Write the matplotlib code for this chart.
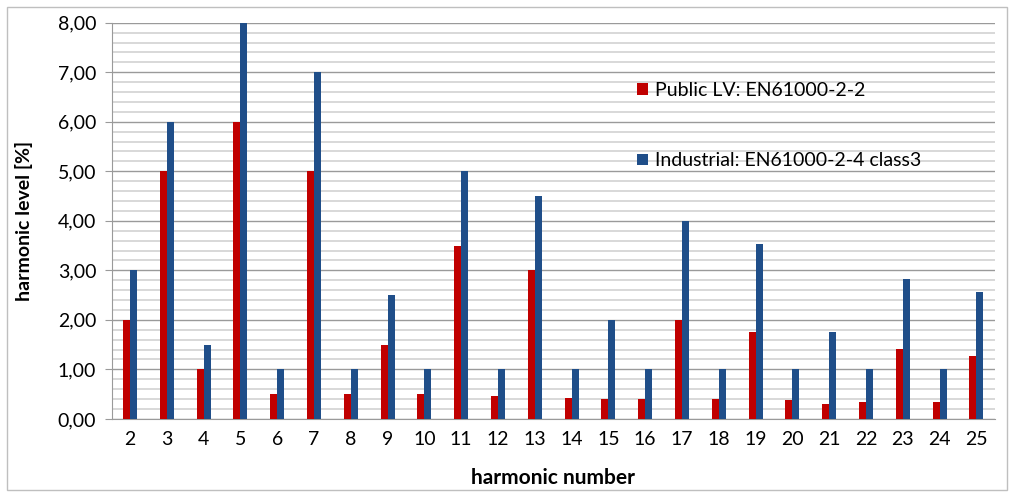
import numpy as np
import matplotlib.pyplot as plt
from matplotlib.patches import Rectangle
from matplotlib.ticker import MultipleLocator, FuncFormatter

plt.rcParams['font.family'] = ['Lato', 'DejaVu Sans']

harmonics = list(range(2, 26))
public_lv = [2.0, 5.0, 1.0, 6.0, 0.5, 5.0, 0.5, 1.5, 0.5, 3.5, 0.46, 3.0,
             0.43, 0.4, 0.41, 2.0, 0.4, 1.76, 0.38, 0.3, 0.35, 1.41, 0.35, 1.27]
industrial = [3.0, 6.0, 1.5, 8.0, 1.0, 7.0, 1.0, 2.5, 1.0, 5.0, 1.0, 4.5,
              1.0, 2.0, 1.0, 4.0, 1.0, 3.53, 1.0, 1.76, 1.0, 2.82, 1.0, 2.56]
labels = ['Public LV: EN61000-2-2', 'Industrial: EN61000-2-4 class3']

red = '#C00000'
blue = '#1F4E89'

fig = plt.figure(figsize=(10.14, 4.94), dpi=100)
ax = fig.add_axes([0.110, 0.152, 0.871, 0.802])

x = np.array(harmonics)
w = 0.19
b1 = ax.bar(x - w / 2, public_lv, width=w, color=red, zorder=3, label=labels[0])
b2 = ax.bar(x + w / 2, industrial, width=w, color=blue, zorder=3, label=labels[1])

ax.set_xlim(1.5, 25.5)
ax.set_ylim(0, 8)
ax.set_xticks(harmonics)
ax.yaxis.set_major_locator(MultipleLocator(1))
ax.yaxis.set_minor_locator(MultipleLocator(0.2))
ax.yaxis.set_major_formatter(FuncFormatter(lambda v, p: f'{v:.2f}'.replace('.', ',')))

# gridlines like the spreadsheet original
ax.grid(which='minor', axis='y', color='#d6d6d6', linewidth=1.3, zorder=0)
ax.grid(which='major', axis='y', color='#9a9a9a', linewidth=1.0, zorder=1)

for s in ['top', 'right']:
    ax.spines[s].set_visible(False)
for s in ['left', 'bottom']:
    ax.spines[s].set_color('#9a9a9a')
ax.tick_params(axis='y', which='major', length=5, color='#9a9a9a', labelsize=14, pad=6)
ax.tick_params(axis='y', which='minor', length=0)
ax.tick_params(axis='x', length=0, labelsize=14, pad=9)

ax.set_xlabel('harmonic number', fontsize=15, fontweight='bold', labelpad=14)
ax.set_ylabel('harmonic level [%]', fontsize=14, fontweight='bold', labelpad=18)

ax.legend(handles=[b1, b2], loc='upper left', bbox_to_anchor=(0.575, 0.895),
          frameon=False, fontsize=14, labelspacing=2.75, handlelength=0.55,
          handleheight=0.55, handletextpad=0.4)

# outer chart border
fig.patches.append(Rectangle((0.007, 0.008), 0.986, 0.978, transform=fig.transFigure,
                             fill=False, edgecolor='#bfbfbf', linewidth=1.0))

fig.savefig('out.png', dpi=100)
